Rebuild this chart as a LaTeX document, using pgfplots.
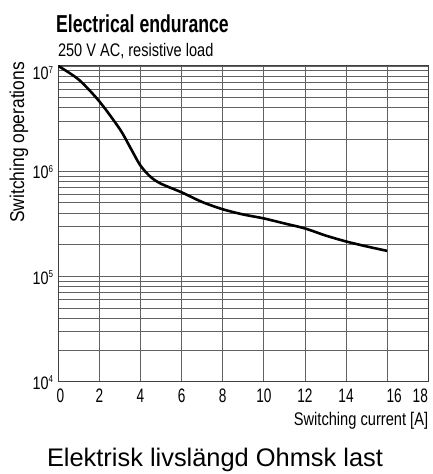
\documentclass[border=0pt]{standalone}
\usepackage{fontspec}
\setmainfont{Liberation Sans}
\newfontfamily\condA[FakeStretch=0.8]{Liberation Sans}
\newfontfamily\condX[FakeStretch=0.7]{Liberation Sans}
\newfontfamily\condY[FakeStretch=0.87]{Liberation Sans}
\newfontfamily\condB[FakeStretch=0.72]{Liberation Sans}
\usepackage{pgfplots}
\pgfplotsset{compat=1.18}
\newcommand{\tp}[1]{10\raisebox{6.5bp}{\fontsize{10bp}{10bp}\selectfont #1}}
\begin{document}
\begin{tikzpicture}[x=1bp,y=1bp]
\path[use as bounding box] (0,0) rectangle (433,474);
\begin{axis}[
  at={(58.3bp,92.3bp)}, anchor=south west,
  width=370bp, height=315.7bp, scale only axis,
  xmin=0, xmax=18, ymin=1e4, ymax=1e7, ymode=log,
  xtick={0,2,...,18},
  xticklabels={\kern4bp 0,2,4,6,8,10,12,14,\kern14bp 16,18\kern16bp},
  ytick={1e4,1e5,1e6,1e7},
  yticklabels={\tp{4},\tp{5},\tp{6},\raisebox{-6.3bp}{\tp{7}}},
  minor ytick={2e4,3e4,4e4,5e4,6e4,7e4,8e4,9e4,2e5,3e5,4e5,5e5,6e5,7e5,8e5,9e5,2e6,3e6,4e6,5e6,6e6,7e6,8e6,9e6},
  major tick length=0pt, minor tick length=0pt,
  grid=both,
  major grid style={black!62, line width=0.9bp},
  minor grid style={black!62, line width=0.9bp},
  axis line style={black!75, line width=1bp},
  xticklabel style={font=\condX\fontsize{19.5bp}{19.5bp}\selectfont, anchor=base, yshift=-21.3bp, inner sep=0pt},
  yticklabel style={font=\condA\fontsize{18bp}{18bp}\selectfont, anchor=base east, xshift=-5bp, yshift=-7.7bp, inner sep=0pt},
  xlabel={Switching current [A]},
  xlabel style={font=\condA\fontsize{18.3bp}{18.3bp}\selectfont, at={(axis description cs:1,0)}, anchor=base east, yshift=-44.3bp, inner sep=0pt},
  ylabel={Switching operations},
  ylabel style={font=\condY\fontsize{20bp}{20bp}\selectfont, at={(axis description cs:-0.0927,0.7577)}, anchor=base, inner sep=0pt},
]
\addplot[black, line width=2.6bp, smooth] coordinates {
(0,1e7) (1,7.4e6) (2,4.6e6) (3,2.5e6) (3.5,1.68e6) (4,1.13e6) (4.5,8.8e5)
(5,7.6e5) (6,6.3e5) (7,5.1e5) (8,4.35e5) (9,3.88e5) (10,3.56e5) (11,3.19e5)
(12,2.86e5) (13,2.45e5) (14,2.15e5) (15,1.93e5) (16,1.75e5)
};
\end{axis}
\node[anchor=base west, inner sep=0pt, font=\condB\bfseries\fontsize{24.5bp}{24.5bp}\selectfont] at (56,441) {Electrical endurance};
\node[anchor=base west, inner sep=0pt, font=\condA\fontsize{18.2bp}{18.2bp}\selectfont] at (57.8,417.3) {250 V AC, resistive load};
\node[anchor=base, inner sep=0pt, font=\fontsize{25.4bp}{25.4bp}\selectfont] at (215,7.3) {Elektrisk livslängd Ohmsk last};
\end{tikzpicture}
\end{document}
